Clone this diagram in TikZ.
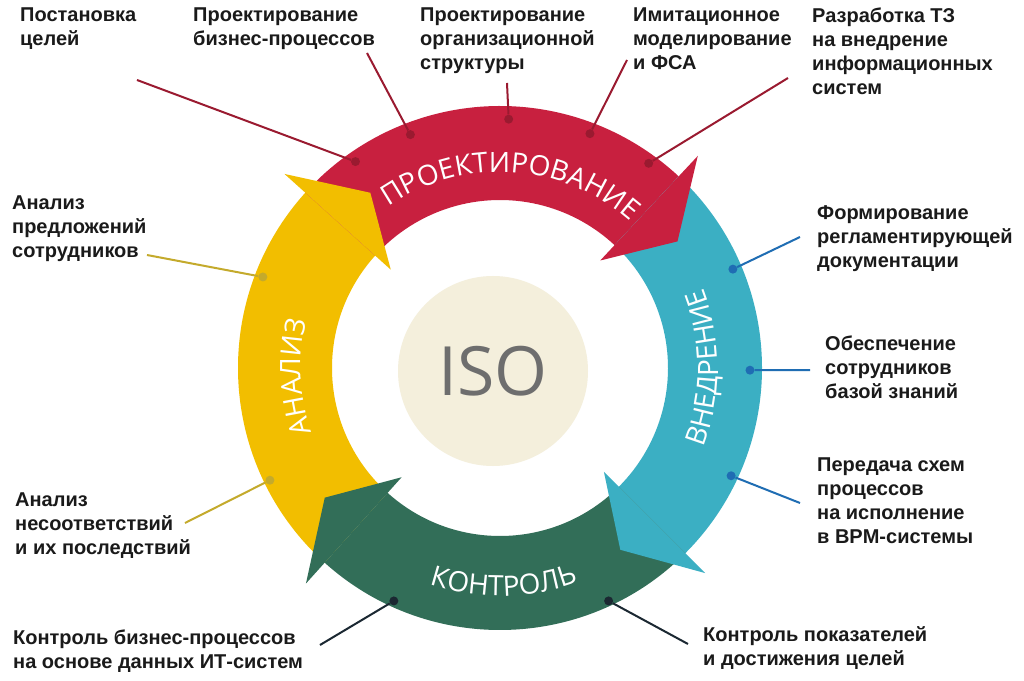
\documentclass[tikz,border=0pt]{standalone}
\usepackage{fontspec}
\setmainfont{Liberation Sans}
\newfontfamily\bandfont{Open Sans}
\usetikzlibrary{decorations.text}
\definecolor{prjred}{HTML}{C8203F}
\definecolor{anlyellow}{HTML}{F2BE00}
\definecolor{impteal}{HTML}{3BAFC3}
\definecolor{ctlgreen}{HTML}{326E58}
\definecolor{redline}{HTML}{9A1A30}
\definecolor{yelline}{HTML}{C4AA2C}
\definecolor{tealline}{HTML}{1F6DB3}
\definecolor{greenline}{HTML}{1B2832}
\definecolor{isobg}{HTML}{F4EFDC}
\definecolor{isogray}{HTML}{6E6E6E}
\definecolor{labelink}{HTML}{1A1A1A}
\def\ringband[#1](#2:#3){\fill[#1] (#2:262) arc[start angle=#2, end angle=#3, radius=262] -- (#3:168) arc[start angle=#3, end angle=#2, radius=168] -- cycle;}
\def\ringhead[#1](#2){\fill[#1] (#2:290) -- ({#2-11.5}:218) -- (#2:147) -- cycle;}
\tikzset{
  lbl/.style={anchor=north west, align=left, inner sep=0pt, text=labelink,
    font=\fontsize{20}{24}\selectfont\bfseries},
  dot/.style={circle, fill=#1, inner sep=0pt, minimum size=9pt},
  conn/.style={draw=#1, line width=2pt},
  bandtext/.style={decorate, decoration={text along path, text align=center,
    text={|\bandfont\fontsize{28}{28}\selectfont\color{white}|#1}}}
}

\begin{document}
\begin{tikzpicture}[x=1pt, y=1pt]
			%%%%% RING %%%%%
			\useasboundingbox[fill=white] (-500, -312) rectangle (524, 368);
			
			\ringband[anlyellow](228:138)
			\ringband[prjred](138:47)
			\ringband[impteal](47:-45)
			\ringband[ctlgreen](-45:-132)
			
			\ringhead[anlyellow](138)
			\ringhead[prjred](47)
			\ringhead[impteal](-45)
			\ringhead[ctlgreen](-132)
			
			\path[bandtext=ПРОЕКТИРОВАНИЕ] (140:196) arc[start angle=140, end angle=33, radius=196];
			\path[bandtext=ВНЕДРЕНИЕ] (-40:218) arc[start angle=-40, end angle=40, radius=218];
			\path[bandtext=КОНТРОЛЬ] (231:228) arc[start angle=231, end angle=311, radius=228];
			\path[bandtext=АНАЛИЗ] (220:199) arc[start angle=220, end angle=145, radius=199];
			
			\node[circle, fill=isobg, minimum size=190pt, inner sep=0pt, text=isogray,
			  font=\bandfont\fontsize{68}{68}\selectfont] (iso) at (-7, -3) {ISO};
			
			%%%%% LABELS %%%%%
			\node[lbl] (goals) at (-480, 360) {Постановка\\целей};
			\node[lbl] (bpdesign) at (-307, 360) {Проектирование\\бизнес-процессов};
			\node[lbl] (orgdesign) at (-80, 360) {Проектирование\\организационной\\структуры};
			\node[lbl] (simul) at (133, 360) {Имитационное\\моделирование\\и ФСА};
			\node[lbl] (spec) at (312, 360) {Разработка ТЗ\\на внедрение\\информационных\\систем};
			
			\node[lbl] (proposals) at (-488, 172) {Анализ\\предложений\\сотрудников};
			\node[lbl] (nonconf) at (-485, -125) {Анализ\\несоответствий\\и их последствий};
			
			\node[lbl] (regdocs) at (317, 163) {Формирование\\регламентирующей\\документации};
			\node[lbl] (knowbase) at (325, 32) {Обеспечение\\сотрудников\\базой знаний};
			\node[lbl] (bpmhand) at (317, -90) {Передача схем\\процессов\\на исполнение\\в BPM-системы};
			
			\node[lbl] (itctl) at (-487, -262) {Контроль бизнес-процессов\\на основе данных ИТ-систем};
			\node[lbl] (kpictl) at (203, -258) {Контроль показателей\\и достижения целей};
			
			%%%%% CONNECTORS %%%%%
			\coordinate (e1) at (-363, 288);
			\coordinate (e2) at (-133, 315);
			\coordinate (e3) at (7, 285);
			\coordinate (e4) at (127, 308);
			\coordinate (e5) at (288, 290);
			\coordinate (e6) at (-353, 113);
			\coordinate (e7) at (-315, -155);
			\coordinate (e8) at (300, 131);
			\coordinate (e9) at (310, -2);
			\coordinate (e10) at (300, -135);
			\coordinate (e11) at (-180, -277);
			\coordinate (e12) at (188, -276);
			
			\node[dot=redline] (d1) at (125:252) {};
			\node[dot=redline] (d2) at (111:250) {};
			\node[dot=redline] (d3) at (88:249) {};
			\node[dot=redline] (d4) at (69:251) {};
			\node[dot=redline] (d5) at (54:253) {};
			\node[dot=yelline] (d6) at (159:254) {};
			\node[dot=yelline] (d7) at (206:256) {};
			\node[dot=tealline] (d8) at (23:253) {};
			\node[dot=tealline] (d9) at (-0.5:250) {};
			\node[dot=tealline] (d10) at (-25:255) {};
			\node[dot=greenline] (d11) at (245.5:256) {};
			\node[dot=greenline] (d12) at (295:257) {};
			
			\draw[conn=redline] (e1) -- (d1);
			\draw[conn=redline] (e2) -- (d2);
			\draw[conn=redline] (e3) -- (d3);
			\draw[conn=redline] (e4) -- (d4);
			\draw[conn=redline] (e5) -- (d5);
			\draw[conn=yelline] (e6) -- (d6);
			\draw[conn=yelline] (e7) -- (d7);
			\draw[conn=tealline] (e8) -- (d8);
			\draw[conn=tealline] (e9) -- (d9);
			\draw[conn=tealline] (e10) -- (d10);
			\draw[conn=greenline] (e11) -- (d11);
			\draw[conn=greenline] (e12) -- (d12);
			
			%%%%% END %%%%%
\end{tikzpicture}
\end{document}
